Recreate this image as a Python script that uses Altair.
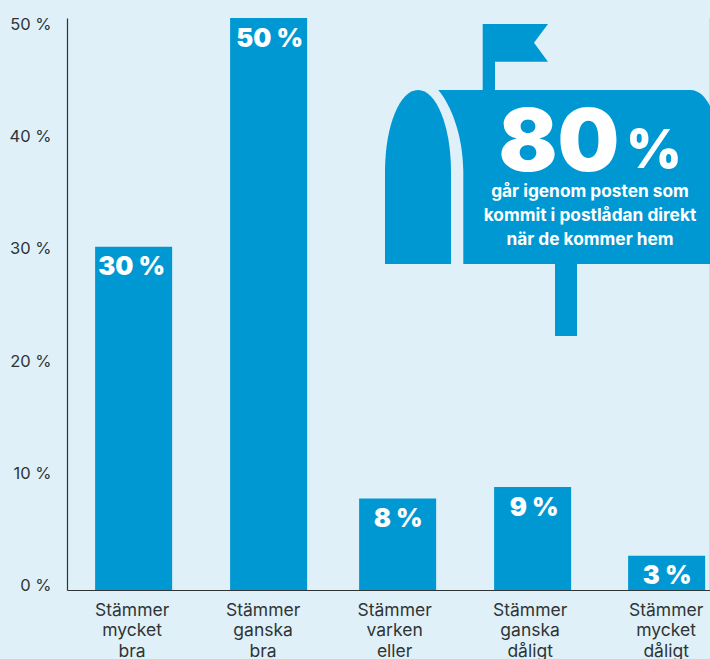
import json

import altair as alt
import pandas as pd

BLUE = "#0098d2"
PAPER = "#dff0f9"
INK = "#2f3436"
FONT = "Inter"

# Survey answers and their shares in percent
answers = [
    "Stämmer\nmycket\nbra",
    "Stämmer\nganska\nbra",
    "Stämmer\nvarken\neller",
    "Stämmer\nganska\ndåligt",
    "Stämmer\nmycket\ndåligt",
]
shares = [30, 50, 8, 9, 3]
share_labels = ["30 %", "50 %", "8 %", "9 %", "3 %"]
y_ticks = [0, 10, 20, 30, 40, 50]
y_tick_labels = ["0 %", "10 %", "20 %", "30 %", "40 %", "50 %"]

# Hand-set column spacing of the printed layout, in pixels
BAR_SHIFT = [0, 1.75, -2.5, -0.75, 0]
VALUE_SHIFT = [-2, 2.75, -2, 0.75, 0.5]
ANSWER_SHIFT = [-1.5, -3.75, -5.5, -3.25, -0.5]


def shift_expr(shifts):
    return alt.expr(f"{json.dumps(shifts)}[datum.slot]")


bars_df = pd.DataFrame(
    {"answer": answers, "share": shares, "label": share_labels, "slot": range(5)}
)
ticks_df = pd.DataFrame({"tick": y_ticks, "label": y_tick_labels})

x_scale = alt.Scale(
    domain=answers, range=[0, 666.25], paddingInner=0.422, paddingOuter=0.211
)
y_scale = alt.Scale(domain=[0, 50], nice=False)

x_enc = alt.X(
    "answer:N",
    sort=answers,
    scale=x_scale,
    axis=alt.Axis(
        labels=False, ticks=False, title=None, domainColor=INK, domainWidth=1.2, grid=False
    ),
)
y_enc = alt.Y(
    "share:Q",
    scale=y_scale,
    axis=alt.Axis(
        labels=False, ticks=False, title=None, domainColor=INK, domainWidth=1.2, grid=False
    ),
)

bars = (
    alt.Chart(bars_df)
    .mark_bar(color=BLUE, xOffset=shift_expr(BAR_SHIFT))
    .encode(x=x_enc, y=y_enc)
)

value_labels = (
    alt.Chart(bars_df)
    .mark_text(
        color="white",
        font=FONT,
        fontWeight=900,
        fontSize=25.5,
        baseline="middle",
        dy=20.5,
        xOffset=shift_expr(VALUE_SHIFT),
    )
    .encode(x=x_enc, y=y_enc, text="label:N")
)

answer_labels = (
    alt.Chart(bars_df)
    .mark_text(
        color=INK,
        font=FONT,
        fontSize=17.5,
        baseline="top",
        lineBreak="\n",
        lineHeight=20.5,
        xOffset=shift_expr(ANSWER_SHIFT),
    )
    .encode(x=x_enc, y=alt.value(583.5), text="answer:N")
)

# Tick labels sit a little inside the bar scale, so they get a scale of their own
tick_labels = (
    alt.Chart(ticks_df)
    .mark_text(color=INK, font=FONT, fontSize=16.5, align="right", baseline="middle")
    .encode(
        x=alt.value(-15.5),
        y=alt.Y(
            "tick:Q",
            scale=alt.Scale(domain=[0, 50], range=[568, 7], nice=False),
            axis=None,
        ),
        text="label:N",
    )
)

# Mailbox pictogram: paths are relative to the plot area's top-left corner
ox, oy = 67, 18


def shift_path(points):
    out = []
    for cmd, coords in points:
        shifted = [
            v - (ox if i % 2 == 0 else oy) for i, v in enumerate(coords)
        ]
        out.append(cmd + " ".join(f"{v:g}" for v in shifted))
    return "".join(out) + "Z"


flag_path = shift_path([
    ("M", (482.7, 90)), ("L", (482.7, 24)), ("L", (548, 24)), ("L", (534, 42.7)),
    ("L", (548, 61.7)), ("L", (495, 61.7)), ("L", (495, 90)),
])
body_path = shift_path([
    ("M", (463.3, 264)), ("L", (463.3, 171)),
    ("C", (463, 135, 451, 105, 438.3, 90)),
    ("L", (690, 90)), ("C", (700, 90, 706, 98, 710, 106)), ("L", (710, 264)),
])
door_path = shift_path([
    ("M", (385, 264)), ("L", (385, 172)),
    ("C", (385, 125, 400, 90, 418, 90)),
    ("C", (436, 90, 451, 125, 451, 172)),
    ("L", (451, 264)),
])
post_path = shift_path([
    ("M", (555, 264)), ("L", (577, 264)), ("L", (577, 336)), ("L", (555, 336)),
])

mailbox = alt.layer(
    *[
        alt.Chart(pd.DataFrame({"part": [name]}))
        .mark_point(shape=path, size=4, filled=True, fill=BLUE, stroke=None, opacity=1)
        .encode(x=alt.value(0), y=alt.value(0))
        for name, path in [
            ("flag", flag_path),
            ("body", body_path),
            ("door", door_path),
            ("post", post_path),
        ]
    ]
)


def caption(text, x, y, size, weight):
    return (
        alt.Chart(pd.DataFrame({"text": [text]}))
        .mark_text(
            color="white", font=FONT, fontSize=size, fontWeight=weight,
            align="center", baseline="alphabetic",
        )
        .encode(x=alt.value(x - ox), y=alt.value(y - oy), text="text:N")
    )


captions = alt.layer(
    caption("80", 559, 171, 87, 900),
    caption("%", 654, 168, 53, 900),
    caption("går igenom posten som", 590, 197, 17.3, 700),
    caption("kommit i postlådan direkt", 590, 221, 17.3, 700),
    caption("när de kommer hem", 590, 245, 17.3, 700),
)

chart = (
    alt.layer(bars, value_labels, answer_labels, tick_labels, mailbox, captions)
    .resolve_scale(y="independent")
    .properties(
        width=643,
        height=572,
        padding={"left": 67, "top": 18, "right": 0, "bottom": 69},
        autosize=alt.AutoSizeParams(type="none"),
        background=PAPER,
    )
    .configure_view(stroke=None)
)

chart.save("out.html", embed_options={"renderer": "svg", "actions": False})
